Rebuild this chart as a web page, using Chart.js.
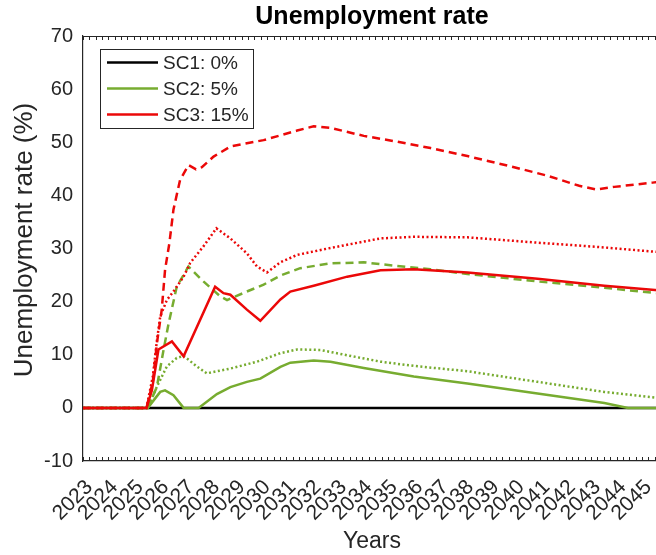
<!DOCTYPE html>
<html>
<head>
<meta charset="utf-8">
<script src="https://cdn.jsdelivr.net/npm/chart.js@4.4.1/dist/chart.umd.min.js"></script>
<style>
  html, body { margin: 0; padding: 0; background: #fff; overflow: hidden; }
  #wrap { width: 656px; height: 555px; overflow: hidden; }
  canvas { display: block; }
</style>
</head>
<body>
<div id="wrap"><canvas id="c" width="744" height="555"></canvas></div>
<script>
// Year tick labels along the x axis
const yearTicks = [2023, 2024, 2025, 2026, 2027, 2028, 2029, 2030, 2031, 2032, 2033,
  2034, 2035, 2036, 2037, 2038, 2039, 2040, 2041, 2042, 2043, 2044, 2045];

// SC1: 0% (flat)
const sc1Years  = [2022.75, 2045.5];
const sc1Values = [0, 0];

// SC2: 5% — solid, dashed and dotted variants
const sc2SolidYears  = [2022.75, 2025.3, 2025.79, 2025.98, 2026.31, 2026.71, 2027.3, 2028.02, 2028.55, 2029.2, 2029.73, 2030.52, 2030.91, 2031.83, 2032.49, 2033.8, 2035.77, 2037.88, 2040.64, 2043.27, 2044.2, 2045.5];
const sc2SolidValues = [0, 0, 3.0, 3.3, 2.4, 0, 0, 2.6, 3.9, 4.9, 5.5, 7.7, 8.5, 8.9, 8.7, 7.5, 5.9, 4.6, 2.7, 0.9, 0, 0];

const sc2DashedYears  = [2022.75, 2025.3, 2025.66, 2025.92, 2026.12, 2026.44, 2026.9, 2027.49, 2028.15, 2028.42, 2029.2, 2029.86, 2030.52, 2031.3, 2032.49, 2033.8, 2035.12, 2036.43, 2037.88, 2040.64, 2043.27, 2045.5];
const sc2DashedValues = [0, 0, 4.0, 10.9, 15.9, 22.8, 26.6, 23.8, 21.0, 20.3, 21.9, 23.2, 24.9, 26.3, 27.2, 27.4, 26.7, 26.1, 25.2, 23.8, 22.6, 21.5];

const sc2DottedYears  = [2022.75, 2025.3, 2025.66, 2026.05, 2026.44, 2026.71, 2027.23, 2027.62, 2028.55, 2029.6, 2030.52, 2031.18, 2032.1, 2033.15, 2034.46, 2035.77, 2037.88, 2040.64, 2043.27, 2045.5];
const sc2DottedValues = [0, 0, 4.0, 7.8, 9.4, 9.8, 7.8, 6.5, 7.4, 8.7, 10.3, 11.0, 10.9, 9.9, 8.7, 7.9, 6.9, 4.9, 3.0, 1.8];

// SC3: 15% — solid, dashed and dotted variants
const sc3SolidYears  = [2022.75, 2025.25, 2025.46, 2025.59, 2025.72, 2026.25, 2026.71, 2027.95, 2028.28, 2028.55, 2029.2, 2029.73, 2030.52, 2030.91, 2031.83, 2033.15, 2034.46, 2035.77, 2037.88, 2040.64, 2043.27, 2045.5];
const sc3SolidValues = [0, 0, 3.3, 7.1, 11.0, 12.5, 9.7, 22.8, 21.6, 21.3, 18.5, 16.4, 20.4, 21.9, 23.0, 24.7, 25.9, 26.1, 25.5, 24.3, 23.0, 22.1];

const sc3DashedYears  = [2022.75, 2025.25, 2025.5, 2025.66, 2025.85, 2025.98, 2026.15, 2026.31, 2026.57, 2026.9, 2027.2, 2027.43, 2027.89, 2028.55, 2029.2, 2029.86, 2030.52, 2031.18, 2031.83, 2032.49, 2033.8, 2035.12, 2036.43, 2037.88, 2039.72, 2041.03, 2042.28, 2042.94, 2043.66, 2045.17, 2045.5];
const sc3DashedValues = [0, 0, 5.0, 12.2, 18.5, 26.0, 31.0, 37.3, 42.9, 45.7, 44.9, 45.3, 47.3, 49.2, 49.8, 50.4, 51.3, 52.2, 53.0, 52.7, 51.2, 50.1, 48.9, 47.4, 45.3, 43.7, 41.8, 41.1, 41.6, 42.4, 42.6];

const sc3DottedYears  = [2022.75, 2025.25, 2025.5, 2025.66, 2025.79, 2026.05, 2026.31, 2026.71, 2026.97, 2027.49, 2028.0, 2028.55, 2029.2, 2029.6, 2029.99, 2030.52, 2031.18, 2032.49, 2033.8, 2034.46, 2035.77, 2037.88, 2040.64, 2043.0, 2045.5];
const sc3DottedValues = [0, 0, 6.0, 12.7, 17.2, 20.3, 21.9, 24.7, 27.3, 30.4, 33.8, 31.9, 29.1, 26.6, 25.5, 27.4, 28.8, 30.1, 31.3, 31.9, 32.2, 32.1, 31.1, 30.3, 29.3];

const legendLabels = ['SC1: 0%', 'SC2: 5%', 'SC3: 15%'];
const chartTitle = 'Unemployment rate';
const yAxisTitle = 'Unemployment rate (%)';

const BLACK = '#000000';
const GREEN = 'rgb(119,172,48)';
const RED = 'rgb(235,8,8)';
const INK = '#262626';
const FONT = "'Liberation Sans', Arial, Helvetica, sans-serif";
const DASH = [8, 5];
const DOT = [2, 2.5];

function pts(xs, ys) { return xs.map((x, i) => ({ x: x, y: ys[i] })); }

function series(label, xs, ys, color, dash, order) {
  return {
    label: label,
    data: pts(xs, ys),
    borderColor: color,
    backgroundColor: color,
    borderWidth: 2.5,
    borderDash: dash,
    borderCapStyle: 'butt',
    pointRadius: 0,
    tension: 0,
    fill: false,
    order: order
  };
}

const datasets = [
  series(legendLabels[0], sc1Years, sc1Values, BLACK, [], 10),
  series(legendLabels[1], sc2SolidYears, sc2SolidValues, GREEN, [], 6),
  series(legendLabels[1] + ' (dashed)', sc2DashedYears, sc2DashedValues, GREEN, DASH, 5),
  series(legendLabels[1] + ' (dotted)', sc2DottedYears, sc2DottedValues, GREEN, DOT, 7),
  series(legendLabels[2] + ' (dotted)', sc3DottedYears, sc3DottedValues, RED, DOT, 3),
  series(legendLabels[2] + ' (dashed)', sc3DashedYears, sc3DashedValues, RED, DASH, 2),
  series(legendLabels[2], sc3SolidYears, sc3SolidValues, RED, [], 1)
];

// Axes box: top/right edges plus inward quarterly tick marks on top and bottom
const framePlugin = {
  id: 'frame',
  afterDraw(chart) {
    const { ctx, chartArea: a, scales: { x } } = chart;
    ctx.save();
    ctx.strokeStyle = INK;
    ctx.lineWidth = 1;
    ctx.beginPath();
    ctx.moveTo(a.left, a.top + 0.5);
    ctx.lineTo(a.right, a.top + 0.5);
    ctx.moveTo(a.right - 0.5, a.top);
    ctx.lineTo(a.right - 0.5, a.bottom);
    ctx.stroke();
    ctx.beginPath();
    for (let q = x.min; q <= x.max + 1e-6; q += 0.25) {
      const px = Math.round(x.getPixelForValue(q)) + 0.5;
      ctx.moveTo(px, a.bottom);
      ctx.lineTo(px, a.bottom - 4);
      ctx.moveTo(px, a.top);
      ctx.lineTo(px, a.top + 4);
    }
    ctx.stroke();
    ctx.restore();
  }
};

// Title centred over the plot area and the rotated y-axis title
const titlesPlugin = {
  id: 'titles',
  afterDraw(chart) {
    const { ctx, chartArea: a } = chart;
    ctx.save();
    ctx.textAlign = 'center';
    ctx.textBaseline = 'middle';
    ctx.fillStyle = '#000';
    ctx.font = 'bold 25px ' + FONT;
    ctx.fillText(chartTitle, (a.left + a.right) / 2, 17);
    ctx.fillStyle = INK;
    ctx.font = '26px ' + FONT;
    ctx.translate(25, 240);
    ctx.rotate(-Math.PI / 2);
    ctx.fillText(yAxisTitle, 0, 0);
    ctx.restore();
  }
};

// Boxed legend in the upper-left corner of the plot
const legendPlugin = {
  id: 'boxLegend',
  afterDraw(chart) {
    const { ctx, chartArea: a } = chart;
    const colors = [BLACK, GREEN, RED];
    const bx = a.left + 17, by = a.top + 13, bw = 153, bh = 79;
    ctx.save();
    ctx.fillStyle = '#fff';
    ctx.fillRect(bx, by, bw, bh);
    ctx.strokeStyle = INK;
    ctx.lineWidth = 1;
    ctx.strokeRect(bx + 0.5, by + 0.5, bw, bh);
    ctx.font = '19px ' + FONT;
    ctx.textBaseline = 'middle';
    ctx.textAlign = 'left';
    legendLabels.forEach((t, i) => {
      const yy = by + 13.5 + i * 26;
      ctx.strokeStyle = colors[i];
      ctx.lineWidth = 2.5;
      ctx.beginPath();
      ctx.moveTo(bx + 7, yy);
      ctx.lineTo(bx + 58, yy);
      ctx.stroke();
      ctx.fillStyle = INK;
      ctx.fillText(t, bx + 63, yy + 1);
    });
    ctx.restore();
  }
};

new Chart(document.getElementById('c'), {
  type: 'line',
  data: { datasets: datasets },
  options: {
    responsive: false,
    animation: false,
    events: [],
    layout: { padding: { left: 0, top: 36, bottom: 0, right: 83 } },
    plugins: {
      legend: { display: false },
      tooltip: { enabled: false },
      title: { display: false }
    },
    scales: {
      x: {
        type: 'linear',
        min: 2022.75,
        max: 2045.5,
        afterBuildTicks: (s) => { s.ticks = yearTicks.map(v => ({ value: v })); },
        afterFit: (s) => { s.height = 94; s.paddingLeft = 0; s.paddingRight = 0; },
        ticks: {
          autoSkip: false,
          minRotation: 45,
          maxRotation: 45,
          padding: 14,
          color: INK,
          font: { family: FONT, size: 21 },
          callback: (v) => String(v)
        },
        grid: { display: true, drawOnChartArea: false, drawTicks: false },
        border: { display: true, color: INK, width: 1.2 },
        title: {
          display: true,
          text: 'Years',
          color: INK,
          font: { family: FONT, size: 23 },
          padding: { top: 0, bottom: 0 }
        }
      },
      y: {
        min: -10,
        max: 70,
        afterFit: (s) => { s.width = 83; s.paddingTop = 0; s.paddingBottom = 0; },
        ticks: {
          stepSize: 10,
          padding: 10,
          color: INK,
          font: { family: FONT, size: 20 }
        },
        grid: { display: true, drawOnChartArea: false, drawTicks: false },
        border: { display: true, color: INK, width: 1.2 },
        title: { display: false }
      }
    }
  },
  plugins: [framePlugin, titlesPlugin, legendPlugin]
});
</script>
</body>
</html>
